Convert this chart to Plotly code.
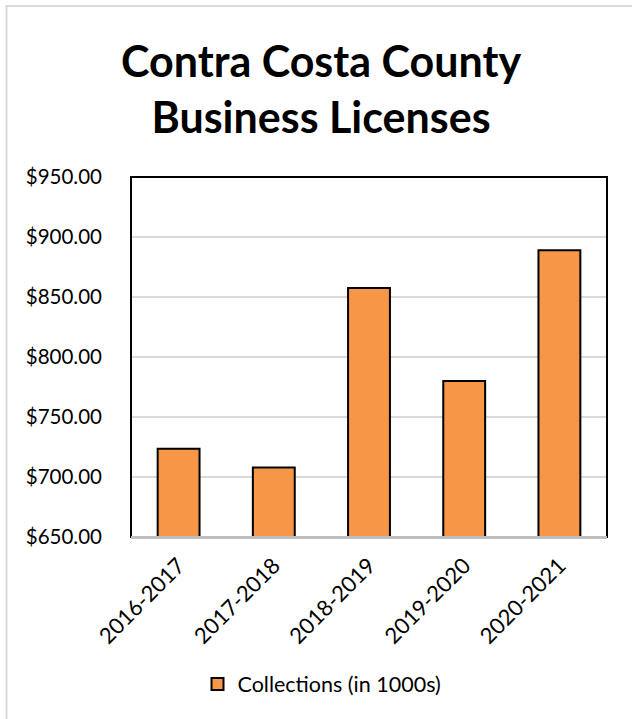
import plotly.graph_objects as go

categories = ["2016-2017", "2017-2018", "2018-2019", "2019-2020", "2020-2021"]
collections = [723.5, 708, 857.5, 780, 889]
series_name = "Collections (in 1000s)"
y_ticks = [650, 700, 750, 800, 850, 900, 950]

W, H = 632, 719
L, R, T, B = 131, 607, 177, 537

def px(x):
    return (x - L) / (R - L)

def py(y):
    return (B - y) / (B - T)

fig = go.Figure()
fig.add_trace(go.Bar(
    x=categories, y=collections, name=series_name,
    marker=dict(color="#F79646", line=dict(color="#000000", width=2)),
    width=0.44, showlegend=True,
))

fig.update_layout(
    width=W, height=H,
    margin=dict(l=L, r=W - R, t=T, b=H - B, pad=0),
    paper_bgcolor="white", plot_bgcolor="white",
    font=dict(family="Lato, Open Sans, sans-serif", color="#000000", size=20),
    title=dict(text="<b>Contra Costa County<br>Business Licenses</b>",
               x=0.508, xanchor="center", y=1 - 77 / H, yanchor="middle",
               font=dict(size=43, family="Lato, Open Sans, sans-serif", color="#000000")),
    showlegend=True,
    legend=dict(orientation="h", x=px(322), xanchor="center", y=py(684), yanchor="middle",
                font=dict(size=21.5), itemsizing="constant", itemwidth=30),
    xaxis=dict(showgrid=False, tickangle=-45, showline=True, linecolor="#BFBFBF",
               linewidth=2, ticks="", tickfont=dict(size=22), ticklabelstandoff=5),
    yaxis=dict(range=[650, 950], tickvals=y_ticks, tickformat="$,.2f",
               showgrid=True, gridcolor="#D9D9D9", gridwidth=1.5,
               zeroline=False, showline=False, ticks="", ticklen=0,
               tickfont=dict(size=20.5), ticklabelstandoff=28),
    shapes=[
        dict(type="rect", xref="paper", yref="paper", x0=0, x1=1, y0=0, y1=1,
             line=dict(color="#000000", width=2), layer="above"),
        dict(type="line", xref="paper", yref="paper", x0=0, x1=1, y0=0, y1=0,
             line=dict(color="#BFBFBF", width=2), layer="above"),
        dict(type="line", xref="paper", yref="paper", x0=px(6.5), x1=px(6.5),
             y0=py(719), y1=py(5.5), line=dict(color="#D9D9D9", width=2)),
        dict(type="line", xref="paper", yref="paper", x0=px(5.5), x1=px(632),
             y0=py(6), y1=py(6), line=dict(color="#D9D9D9", width=2)),
    ],
)

fig.write_html("out.html")
